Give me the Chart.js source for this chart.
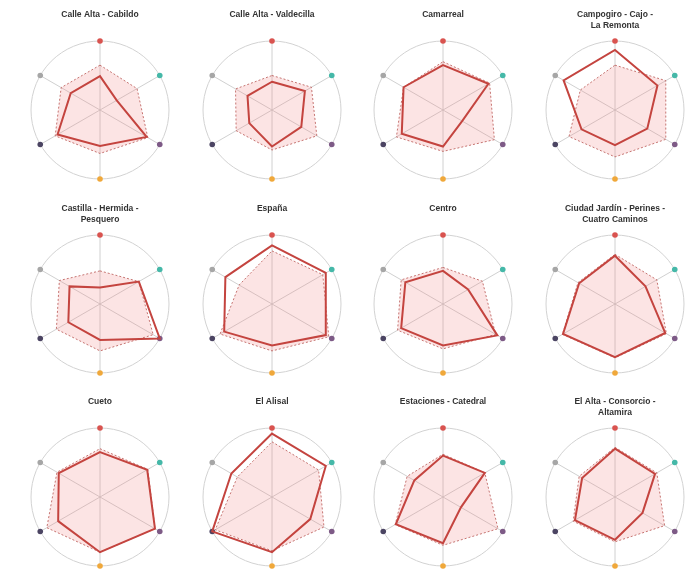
<!DOCTYPE html>
<html>
<head>
<meta charset="utf-8">
<script src="https://cdn.jsdelivr.net/npm/chart.js@4.4.1/dist/chart.umd.min.js"></script>
<style>
  html, body { margin: 0; padding: 0; background: #fff; overflow: hidden; }
  body { width: 687px; height: 571px; position: relative; }
  canvas { position: absolute; }
</style>
</head>
<body>
<script>
// ejes del radar (no se muestran)
const axes = ['Eje 1', 'Eje 2', 'Eje 3', 'Eje 4', 'Eje 5', 'Eje 6'];
const axisColors = ['#d9534f', '#45b8a8', '#7d5a86', '#f0a83a', '#4b4462', '#a6a6a6'];

const titles = [
  'Calle Alta - Cabildo',
  'Calle Alta - Valdecilla',
  'Camarreal',
  ['Campogiro - Cajo -', 'La Remonta'],
  ['Castilla - Hermida -', 'Pesquero'],
  'España',
  'Centro',
  ['Ciudad Jardín - Perines -', 'Cuatro Caminos'],
  'Cueto',
  'El Alisal',
  'Estaciones - Catedral',
  ['El Alta - Consorcio -', 'Altamira']
];

// valores del barrio (línea continua)
const districtValues = [
  [0.49, 0.28, 0.78, 0.52, 0.71, 0.49],
  [0.41, 0.55, 0.49, 0.53, 0.38, 0.41],
  [0.65, 0.76, 0.32, 0.53, 0.69, 0.66],
  [0.87, 0.71, 0.54, 0.51, 0.56, 0.86],
  [0.24, 0.65, 1.00, 0.52, 0.53, 0.51],
  [0.85, 0.90, 0.90, 0.60, 0.80, 0.78],
  [0.48, 0.42, 0.91, 0.60, 0.70, 0.63],
  [0.70, 0.51, 0.84, 0.77, 0.87, 0.60],
  [0.65, 0.79, 0.92, 0.80, 0.70, 0.69],
  [0.92, 0.90, 0.64, 0.80, 1.00, 0.68],
  [0.60, 0.70, 0.30, 0.67, 0.79, 0.48],
  [0.70, 0.67, 0.46, 0.62, 0.67, 0.55]
];

// valores de referencia (línea discontinua, relleno rosa)
const referenceValues = [
  [0.65, 0.62, 0.80, 0.63, 0.75, 0.65],
  [0.50, 0.66, 0.75, 0.58, 0.60, 0.61],
  [0.70, 0.78, 0.86, 0.60, 0.78, 0.66],
  [0.65, 0.85, 0.85, 0.68, 0.77, 0.58],
  [0.48, 0.65, 0.89, 0.68, 0.73, 0.68],
  [0.77, 0.85, 0.95, 0.68, 0.87, 0.55],
  [0.53, 0.66, 0.88, 0.65, 0.76, 0.70],
  [0.72, 0.70, 0.86, 0.78, 0.88, 0.62],
  [0.70, 0.80, 0.92, 0.80, 0.89, 0.72],
  [0.80, 0.78, 0.87, 0.78, 0.95, 0.58],
  [0.62, 0.70, 0.92, 0.70, 0.80, 0.60],
  [0.72, 0.70, 0.83, 0.65, 0.70, 0.60]
];

const axisEnds = [1, 1, 1, 1, 1, 1];

const W = 164, H = 193;
const lineH = 8.5 * 1.25;

titles.forEach((title, i) => {
  const col = i % 4, row = Math.floor(i / 4);
  const cx = 100 + 171.7 * col;
  const canvas = document.createElement('canvas');
  canvas.width = W;
  canvas.height = H;
  canvas.style.left = (cx - W / 2) + 'px';
  canvas.style.top = (193.5 * row) + 'px';
  document.body.appendChild(canvas);

  const lines = Array.isArray(title) ? title.length : 1;

  new Chart(canvas.getContext('2d'), {
    type: 'radar',
    data: {
      labels: axes,
      datasets: [
        {
          label: 'Barrio',
          data: districtValues[i],
          borderColor: '#c4443f',
          borderWidth: 2,
          backgroundColor: 'rgba(0,0,0,0)',
          fill: false,
          pointRadius: 0,
          clip: false
        },
        {
          label: 'Referencia',
          data: referenceValues[i],
          borderColor: '#b85450',
          borderWidth: 0.8,
          borderDash: [2, 2],
          backgroundColor: 'rgba(242,130,130,0.22)',
          fill: true,
          pointRadius: 0,
          clip: false
        },
        {
          label: 'Ejes',
          data: axisEnds,
          showLine: false,
          fill: false,
          borderWidth: 0,
          backgroundColor: 'rgba(0,0,0,0)',
          pointRadius: 2.8,
          pointBorderWidth: 0,
          pointBackgroundColor: axisColors,
          clip: false
        }
      ]
    },
    options: {
      responsive: false,
      animation: false,
      layout: { padding: { top: 0, bottom: 13.5, left: 0, right: 0 } },
      plugins: {
        legend: { display: false },
        tooltip: { enabled: false },
        title: {
          display: true,
          text: title,
          color: '#333',
          font: { size: 8.5, weight: 'bold', family: 'Liberation Sans, Arial, sans-serif', lineHeight: 1.25 },
          padding: { top: 9.7, bottom: 9.55 + (2 - lines) * lineH }
        }
      },
      scales: {
        r: {
          min: 0,
          max: 1,
          ticks: { display: false, stepSize: 1 },
          grid: { circular: true, color: '#d2d2d2', lineWidth: 1 },
          angleLines: { color: '#c4c4c4', lineWidth: 0.8 },
          pointLabels: { display: false }
        }
      }
    }
  });
});
</script>
</body>
</html>
